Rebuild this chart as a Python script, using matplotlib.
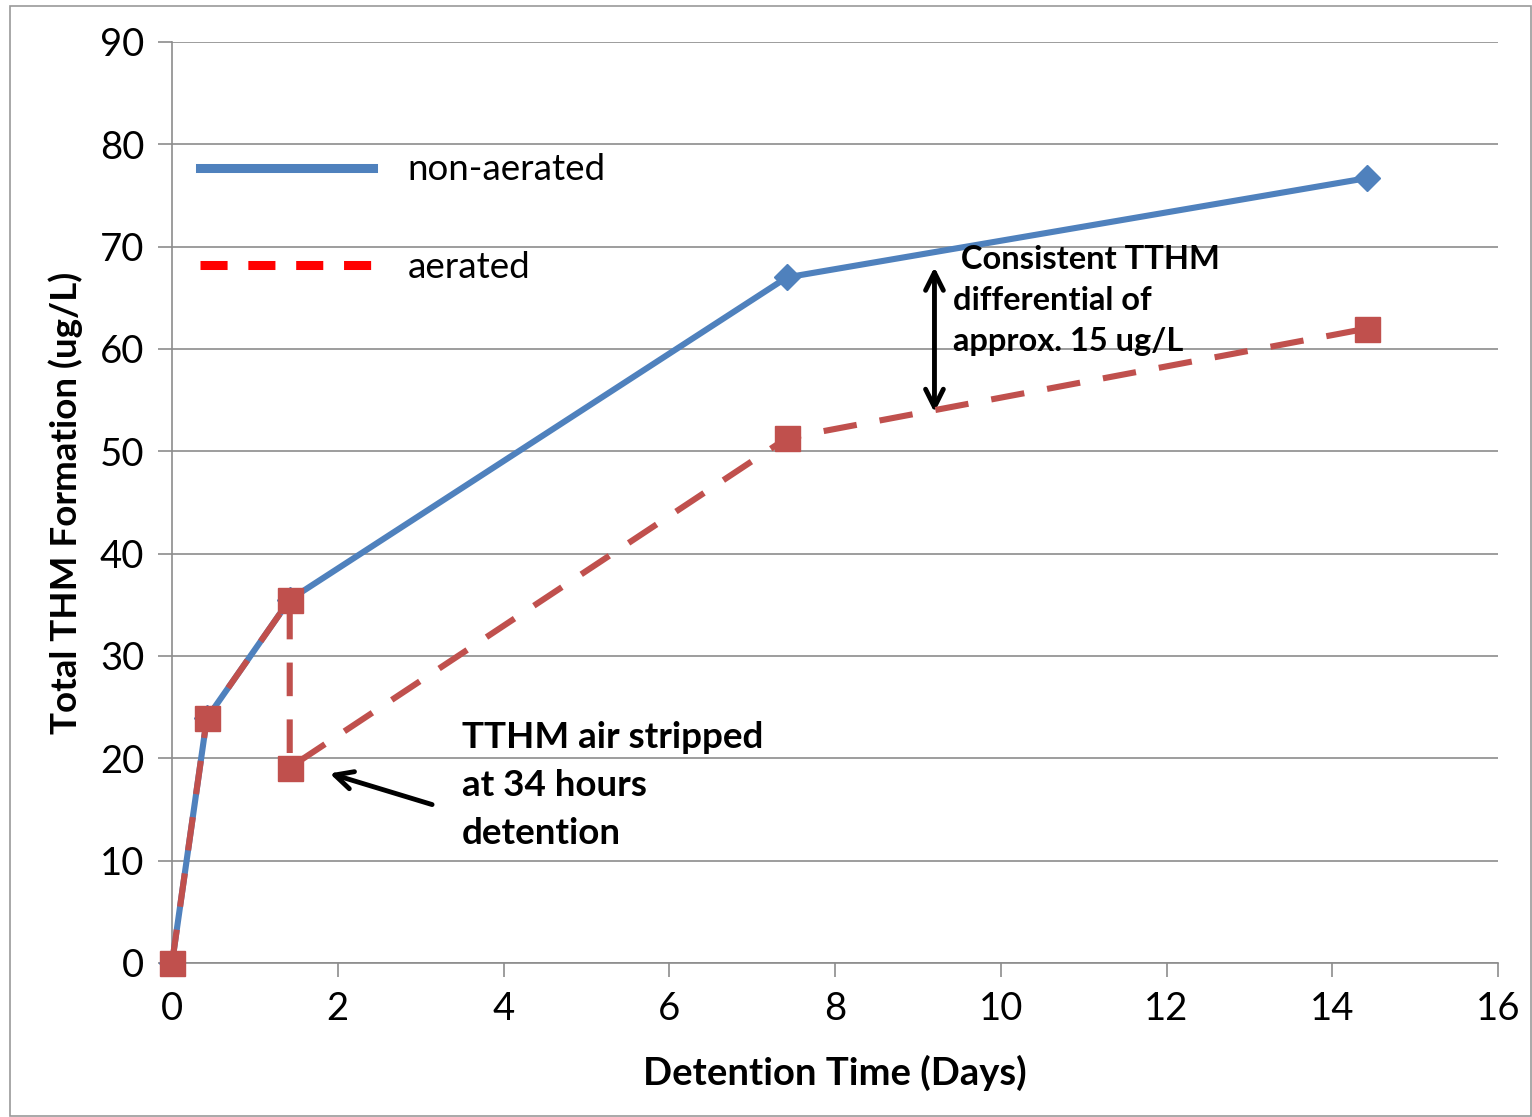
import matplotlib.pyplot as plt
from matplotlib.lines import Line2D
from matplotlib.patches import Rectangle

plt.rcParams['font.family'] = ['Lato', 'DejaVu Sans']

# data (days, ug/L)
days_non = [0, 0.42, 1.42, 7.42, 14.42]
tthm_non = [0, 23.9, 35.5, 67.0, 76.7]
days_aer = [0, 0.42, 1.42, 1.42, 7.42, 14.42]
tthm_aer = [0, 23.9, 35.5, 19.1, 51.3, 62.0]

x_ticks = [0, 2, 4, 6, 8, 10, 12, 14, 16]
y_ticks = [0, 10, 20, 30, 40, 50, 60, 70, 80, 90]

blue = '#4F81BD'
red = '#C0504D'
grid_c = '#8C8C8C'

fig = plt.figure(figsize=(15.32, 11.17), dpi=100)
ax = fig.add_axes([0.1123, 0.1379, 0.8655, 0.8245])

ax.plot(days_non, tthm_non, color=blue, lw=4.4, marker='D', markersize=13,
        zorder=3, clip_on=False)
ax.plot(days_aer, tthm_aer, color=red, lw=4.4, dashes=(5.5, 3.8), marker='s',
        markersize=18, zorder=4, clip_on=False)

ax.set_xlim(0, 16)
ax.set_ylim(0, 90)
ax.set_xticks(x_ticks)
ax.set_yticks(y_ticks)
ax.tick_params(labelsize=27.5, length=10, width=1.2, color=grid_c, pad=10)
ax.yaxis.grid(True, color=grid_c, lw=1.2)
ax.set_axisbelow(True)
for s in ['top', 'right']:
    ax.spines[s].set_visible(False)
for s in ['left', 'bottom']:
    ax.spines[s].set_color(grid_c)
    ax.spines[s].set_linewidth(1.2)

ax.set_xlabel('Detention Time (Days)', fontsize=27.5, fontweight='bold', labelpad=20)
ax.set_ylabel('Total THM Formation (ug/L)', fontsize=26.5, fontweight='bold', labelpad=12)

# legend
handles = [Line2D([], [], color=blue, lw=6.5),
           Line2D([], [], color='#FF0000', lw=6.5, dashes=(3.0, 2.3))]
ax.legend(handles, ['non-aerated', 'aerated'], loc='upper left',
          bbox_to_anchor=(-0.004, 0.915), frameon=False, fontsize=26.5,
          handlelength=4.7, handletextpad=0.95, labelspacing=1.75)

# annotations
ax.annotate('', xy=(1.87, 18.6), xytext=(3.17, 15.4),
            arrowprops=dict(arrowstyle='->', color='black', lw=3.5,
                            mutation_scale=32))
ax.text(3.5, 23.6, 'TTHM air stripped\nat 34 hours\ndetention', fontsize=26.5,
        fontweight='bold', va='top', ha='left', linespacing=1.55)

ax.annotate('', xy=(9.2, 53.8), xytext=(9.2, 68.0),
            arrowprops=dict(arrowstyle='<->', color='black', lw=3.5,
                            mutation_scale=32, shrinkA=0, shrinkB=0))
ax.text(9.42, 70.2, ' Consistent TTHM\ndifferential of\napprox. 15 ug/L',
        fontsize=23.5, fontweight='bold', va='top', ha='left', linespacing=1.5)

# outer frame
fig.patches.append(Rectangle((0.0065, 0.001), 0.993, 0.9937, transform=fig.transFigure,
                             fill=False, edgecolor='#999999', lw=1.2))

fig.savefig('out.png', dpi=100)
plt.close()
